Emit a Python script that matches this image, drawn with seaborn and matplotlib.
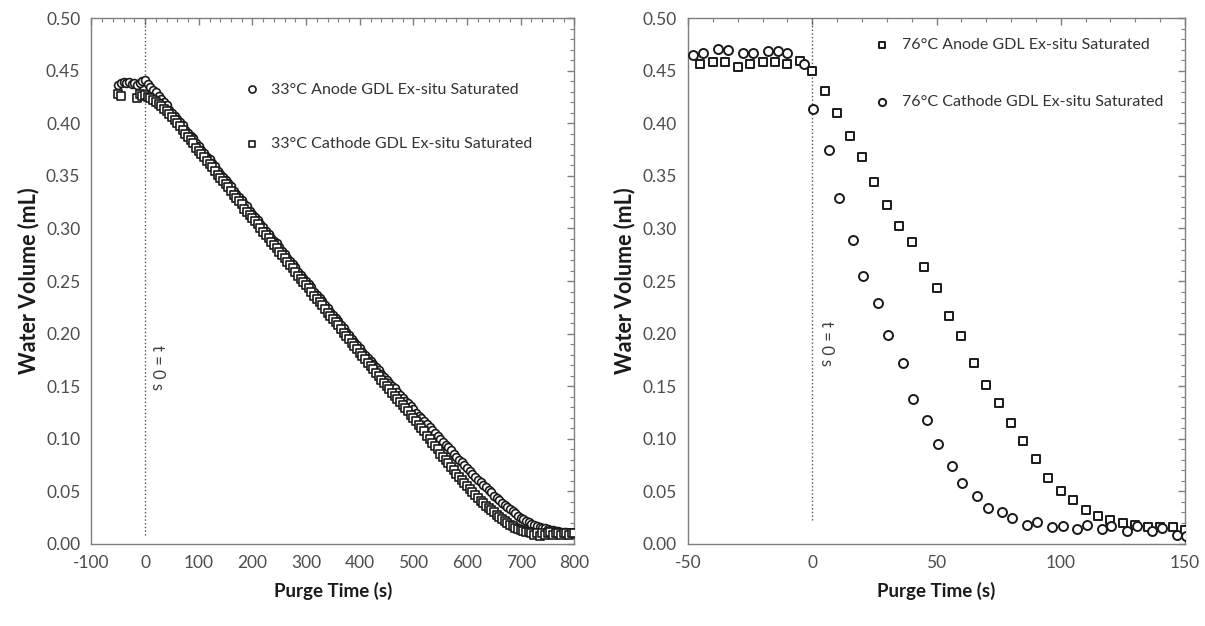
import matplotlib
matplotlib.use("Agg")
import matplotlib.pyplot as plt
import matplotlib.ticker as ticker
import seaborn as sns
import pandas as pd

sns.set_style("white")
plt.rcParams['font.family'] = ['Lato', 'DejaVu Sans']
plt.rcParams['axes.unicode_minus'] = False

# ---- 33 C data (left panel) ----
t_anode_33 = [-50, -45, -40, -35, -30, -25, -20, -15, -10, -5,
              0, 5, 10, 15, 20, 25, 30, 35, 40, 45,
              50, 55, 60, 65, 70, 75, 80, 85, 90, 95,
              100, 105, 110, 115, 120, 125, 130, 135, 140, 145,
              150, 155, 160, 165, 170, 175, 180, 185, 190, 195,
              200, 205, 210, 215, 220, 225, 230, 235, 240, 245,
              250, 255, 260, 265, 270, 275, 280, 285, 290, 295,
              300, 305, 310, 315, 320, 325, 330, 335, 340, 345,
              350, 355, 360, 365, 370, 375, 380, 385, 390, 395,
              400, 405, 410, 415, 420, 425, 430, 435, 440, 445,
              450, 455, 460, 465, 470, 475, 480, 485, 490, 495,
              500, 505, 510, 515, 520, 525, 530, 535, 540, 545,
              550, 555, 560, 565, 570, 575, 580, 585, 590, 595,
              600, 605, 610, 615, 620, 625, 630, 635, 640, 645,
              650, 655, 660, 665, 670, 675, 680, 685, 690, 695,
              700, 705, 710, 715, 720, 725, 730, 735, 740, 745,
              750, 755, 760, 765, 770, 775, 780, 785, 790, 795, 800]
v_anode_33 = [0.436, 0.438, 0.439, 0.438, 0.439, 0.437, 0.438, 0.436, 0.438, 0.440,
              0.441, 0.437, 0.435, 0.432, 0.430, 0.426, 0.423, 0.420, 0.417, 0.413,
              0.410, 0.407, 0.404, 0.401, 0.398, 0.394, 0.391, 0.388, 0.386, 0.381,
              0.378, 0.375, 0.372, 0.368, 0.366, 0.362, 0.359, 0.355, 0.352, 0.349,
              0.346, 0.343, 0.340, 0.336, 0.333, 0.330, 0.327, 0.323, 0.321, 0.317,
              0.314, 0.311, 0.308, 0.304, 0.301, 0.298, 0.295, 0.291, 0.288, 0.286,
              0.282, 0.279, 0.276, 0.272, 0.269, 0.266, 0.263, 0.259, 0.256, 0.253,
              0.250, 0.247, 0.244, 0.240, 0.237, 0.234, 0.231, 0.227, 0.224, 0.221,
              0.218, 0.215, 0.212, 0.208, 0.205, 0.202, 0.199, 0.195, 0.192, 0.189,
              0.186, 0.183, 0.180, 0.177, 0.174, 0.171, 0.168, 0.165, 0.162, 0.159,
              0.156, 0.153, 0.150, 0.148, 0.145, 0.142, 0.139, 0.136, 0.134, 0.131,
              0.128, 0.125, 0.122, 0.120, 0.117, 0.114, 0.111, 0.108, 0.106, 0.103,
              0.100, 0.097, 0.094, 0.092, 0.089, 0.086, 0.083, 0.080, 0.078, 0.075,
              0.072, 0.069, 0.067, 0.064, 0.061, 0.059, 0.056, 0.054, 0.051, 0.049,
              0.046, 0.044, 0.042, 0.039, 0.037, 0.035, 0.033, 0.031, 0.029, 0.027,
              0.025, 0.024, 0.022, 0.021, 0.019, 0.018, 0.017, 0.016, 0.015, 0.015,
              0.014, 0.013, 0.013, 0.012, 0.012, 0.011, 0.011, 0.011, 0.010, 0.010, 0.010]

t_cathode_33 = [-50, -45, -15, -10, -5,
                0, 5, 10, 15, 20, 25, 30, 35, 40, 45,
                50, 55, 60, 65, 70, 75, 80, 85, 90, 95,
                100, 105, 110, 115, 120, 125, 130, 135, 140, 145,
                150, 155, 160, 165, 170, 175, 180, 185, 190, 195,
                200, 205, 210, 215, 220, 225, 230, 235, 240, 245,
                250, 255, 260, 265, 270, 275, 280, 285, 290, 295,
                300, 305, 310, 315, 320, 325, 330, 335, 340, 345,
                350, 355, 360, 365, 370, 375, 380, 385, 390, 395,
                400, 405, 410, 415, 420, 425, 430, 435, 440, 445,
                450, 455, 460, 465, 470, 475, 480, 485, 490, 495,
                500, 505, 510, 515, 520, 525, 530, 535, 540, 545,
                550, 555, 560, 565, 570, 575, 580, 585, 590, 595,
                600, 605, 610, 615, 620, 625, 630, 635, 640, 645,
                650, 655, 660, 665, 670, 675, 680, 685, 690, 695,
                700, 705, 710, 715, 720, 725, 730, 735, 740, 745,
                750, 755, 760, 765, 770, 775, 780, 785, 790, 795, 800]
v_cathode_33 = [0.428, 0.426, 0.424, 0.428, 0.426,
                0.427, 0.425, 0.424, 0.422, 0.420, 0.418, 0.416, 0.414, 0.412, 0.409,
                0.406, 0.403, 0.400, 0.397, 0.394, 0.390, 0.387, 0.384, 0.381, 0.377,
                0.374, 0.371, 0.368, 0.364, 0.361, 0.358, 0.355, 0.351, 0.348, 0.345,
                0.342, 0.339, 0.336, 0.332, 0.329, 0.326, 0.323, 0.319, 0.316, 0.313,
                0.310, 0.307, 0.304, 0.300, 0.297, 0.294, 0.291, 0.287, 0.284, 0.281,
                0.278, 0.275, 0.272, 0.268, 0.265, 0.262, 0.259, 0.255, 0.252, 0.249,
                0.246, 0.243, 0.240, 0.236, 0.233, 0.230, 0.227, 0.223, 0.220, 0.217,
                0.214, 0.211, 0.208, 0.204, 0.201, 0.198, 0.195, 0.191, 0.188, 0.185,
                0.182, 0.179, 0.176, 0.172, 0.169, 0.166, 0.163, 0.160, 0.156, 0.153,
                0.150, 0.147, 0.144, 0.141, 0.138, 0.135, 0.132, 0.129, 0.126, 0.123,
                0.120, 0.117, 0.113, 0.110, 0.107, 0.103, 0.100, 0.096, 0.093, 0.090,
                0.086, 0.083, 0.080, 0.077, 0.073, 0.070, 0.067, 0.064, 0.061, 0.058,
                0.055, 0.052, 0.049, 0.047, 0.044, 0.041, 0.039, 0.036, 0.034, 0.032,
                0.030, 0.028, 0.026, 0.024, 0.022, 0.020, 0.018, 0.017, 0.015, 0.014,
                0.013, 0.012, 0.011, 0.011, 0.010, 0.009, 0.010, 0.008, 0.010, 0.009,
                0.010, 0.011, 0.009, 0.010, 0.010, 0.009, 0.010, 0.010, 0.009, 0.010, 0.010]

# ---- 76 C data (right panel) ----
t_anode_76 = [-45, -40, -35, -30, -25, -20, -15, -10, -5, 0,
              5, 10, 15, 20, 25, 30, 35, 40, 45, 50,
              55, 60, 65, 70, 75, 80, 85, 90, 95, 100,
              105, 110, 115, 120, 125, 130, 135, 140, 145, 150]
v_anode_76 = [0.456, 0.458, 0.458, 0.454, 0.456, 0.458, 0.458, 0.456, 0.459, 0.450,
              0.431, 0.410, 0.388, 0.368, 0.344, 0.322, 0.302, 0.287, 0.263, 0.243,
              0.217, 0.198, 0.172, 0.151, 0.134, 0.115, 0.098, 0.081, 0.063, 0.050,
              0.042, 0.032, 0.027, 0.023, 0.020, 0.018, 0.016, 0.016, 0.016, 0.013]

t_cathode_76 = [-48, -44, -38, -34, -28, -24, -18, -14, -10, -3.5,
                0.3, 6.6, 10.6, 16.4, 20.3, 26.3, 30.4, 36.6, 40.6, 46.2,
                50.5, 56.3, 60.4, 66.4, 70.8, 76.2, 80.2, 86.6, 90.4, 96.6,
                100.7, 106.5, 110.5, 116.7, 120.4, 126.6, 130.5, 136.6, 140.6, 146.8, 150.5]
v_cathode_76 = [0.465, 0.467, 0.471, 0.470, 0.467, 0.467, 0.469, 0.469, 0.467, 0.456,
                0.414, 0.375, 0.329, 0.289, 0.255, 0.229, 0.199, 0.172, 0.138, 0.118,
                0.095, 0.074, 0.058, 0.046, 0.034, 0.030, 0.025, 0.018, 0.021, 0.016,
                0.017, 0.014, 0.018, 0.014, 0.017, 0.012, 0.017, 0.012, 0.015, 0.009, 0.008]

label_color = '#1a1a1a'
tick_color = '#4d4d4d'
edge = '#1a1a1a'


def style_axes(ax, xmin, xmax, xmajor, xminor):
    ax.set_xlim(xmin, xmax)
    ax.set_ylim(0, 0.5)
    ax.xaxis.set_major_locator(ticker.MultipleLocator(xmajor))
    ax.xaxis.set_minor_locator(ticker.MultipleLocator(xminor))
    ax.yaxis.set_major_locator(ticker.MultipleLocator(0.05))
    ax.yaxis.set_minor_locator(ticker.MultipleLocator(0.01))
    ax.yaxis.set_major_formatter(ticker.FormatStrFormatter('%.2f'))
    for s in ax.spines.values():
        s.set_color('#7f7f7f')
        s.set_linewidth(1.0)
    ax.tick_params(which='major', direction='inout', length=8, width=1,
                   color='#7f7f7f', labelcolor=tick_color, labelsize=12.5, pad=4)
    ax.tick_params(which='minor', direction='in', length=4, width=0.8, color='#7f7f7f')
    # ticks on top and right spines point inward
    top = ax.secondary_xaxis('top')
    top.xaxis.set_major_locator(ticker.MultipleLocator(xmajor))
    top.xaxis.set_minor_locator(ticker.MultipleLocator(xminor))
    top.tick_params(which='major', direction='in', length=5, width=1, color='#7f7f7f', labeltop=False)
    top.tick_params(which='minor', direction='in', length=3, width=0.8, color='#7f7f7f')
    top.spines['top'].set_visible(False)
    right = ax.secondary_yaxis('right')
    right.yaxis.set_major_locator(ticker.MultipleLocator(0.05))
    right.yaxis.set_minor_locator(ticker.MultipleLocator(0.01))
    right.tick_params(which='major', direction='in', length=5, width=1, color='#7f7f7f', labelright=False)
    right.tick_params(which='minor', direction='in', length=3, width=0.8, color='#7f7f7f')
    right.spines['right'].set_visible(False)
    ax.set_xlabel('Purge Time (s)', fontsize=13.5, fontweight='bold', color=label_color, labelpad=8)
    ax.set_ylabel('Water Volume (mL)', fontsize=15.5, fontweight='bold', color=label_color, labelpad=5)


fig = plt.figure(figsize=(12.05, 6.26), dpi=100)
ax1 = fig.add_axes([0.0759, 0.131, 0.4008, 0.840])
ax2 = fig.add_axes([0.5710, 0.131, 0.4124, 0.840])

# left panel
sns.scatterplot(x=t_anode_33, y=v_anode_33, marker='o', s=32, facecolor='white',
                edgecolor=edge, linewidth=1.2, ax=ax1, zorder=3,
                label='33°C Anode GDL Ex-situ Saturated')
sns.scatterplot(x=t_cathode_33, y=v_cathode_33, marker='s', s=26, facecolor='white',
                edgecolor=edge, linewidth=1.2, ax=ax1, zorder=3,
                label='33°C Cathode GDL Ex-situ Saturated')
ax1.axvline(0, ymin=0.017, ymax=1, color='#555555', linestyle=':', linewidth=1.0, zorder=1)
ax1.text(22, 0.168, 't = 0 s', rotation=270, ha='center', va='center',
         fontsize=12, color='#404040')
style_axes(ax1, -100, 800, 100, 20)
leg1 = ax1.legend(frameon=False, loc='upper left', bbox_to_anchor=(0.27, 0.905),
                  labelspacing=2.5, handletextpad=0.2, fontsize=11.5, markerscale=0.9)
for t in leg1.get_texts():
    t.set_color('#333333')

# right panel
sns.scatterplot(x=t_anode_76, y=v_anode_76, marker='s', s=38, facecolor='white',
                edgecolor=edge, linewidth=1.4, ax=ax2, zorder=3,
                label='76°C Anode GDL Ex-situ Saturated')
sns.scatterplot(x=t_cathode_76, y=v_cathode_76, marker='o', s=42, facecolor='white',
                edgecolor=edge, linewidth=1.4, ax=ax2, zorder=3,
                label='76°C Cathode GDL Ex-situ Saturated')
ax2.axvline(0, ymin=0.046, ymax=1, color='#555555', linestyle=':', linewidth=1.0, zorder=1)
ax2.text(5.6, 0.191, 't = 0 s', rotation=270, ha='center', va='center',
         fontsize=12, color='#404040')
style_axes(ax2, -50, 150, 50, 10)
leg2 = ax2.legend(frameon=False, loc='upper left', bbox_to_anchor=(0.33, 0.99),
                  labelspacing=2.7, handletextpad=0.2, fontsize=11.5, markerscale=0.8)
for t in leg2.get_texts():
    t.set_color('#333333')

fig.savefig('out.png', dpi=100)
